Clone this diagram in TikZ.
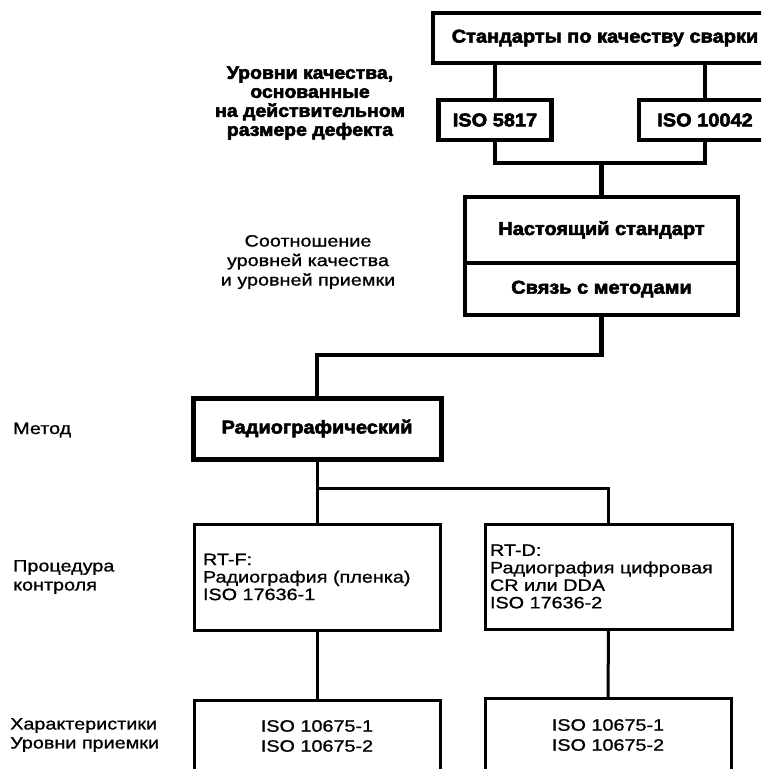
\documentclass[tikz,border=0pt]{standalone}
\usepackage{fontspec}
\setmainfont{Liberation Sans}[FakeStretch=1.2,FakeBold=1]
\newfontfamily\heavy{Liberation Sans Bold}[FakeStretch=1.08,FakeBold=3]
\begin{document}
\begin{tikzpicture}[x=1pt,y=-1pt,
  thickbox/.style={draw,line width=4.5pt,inner sep=0pt,outer sep=0pt,font=\heavy\fontsize{18.5}{19}\selectfont},
  thinbox/.style={draw,line width=3pt,inner sep=0pt,outer sep=0pt,font=\fontsize{16.5}{17.5}\selectfont},
  heavyline/.style={line width=4.5pt},
  thinline/.style={line width=3pt},
  lbl/.style={inner sep=0pt,font=\fontsize{16.5}{19}\selectfont,align=left,anchor=west},
  hlbl/.style={inner sep=0pt,font=\heavy\fontsize{18}{19}\selectfont,align=center}]
\useasboundingbox (0,0) rectangle (761,769);
\clip (0,0) rectangle (761,769);
\fill[white] (0,0) rectangle (761,769);
% top part
\node[thickbox,minimum width=344pt,minimum height=50pt] (top) at (605,38) {Стандарты по качеству сварки};
\node[thickbox,minimum width=113pt,minimum height=40pt] (isoa) at (495,120) {ISO 5817};
\node[thickbox,minimum width=132pt,minimum height=40pt] (isob) at (705,120) {ISO 10042};
\node[thickbox,minimum width=273pt,minimum height=66pt] (cur) at (601.5,230) {Настоящий стандарт};
\node[thickbox,minimum width=273pt,minimum height=52pt] (meth) at (601.5,289) {Связь с методами};
\node[thickbox,minimum width=248pt,minimum height=61pt,line width=5pt] (rad) at (317,428.5) {Радиографический};
% lower part
\node[thinbox,minimum width=246pt,minimum height=106pt,text width=228pt,align=left] (rtf) at (317,577) {RT-F:\\Радиография (пленка)\\ISO 17636-1};
\node[thinbox,minimum width=247pt,minimum height=105pt,text width=237pt,align=left] (rtd) at (608.5,576.5) {RT-D:\\Радиография цифровая\\CR или DDA\\ISO 17636-2};
\node[thinbox,minimum width=246pt,minimum height=72pt,align=center,font=\fontsize{16.5}{20}\selectfont] (bl) at (317,736) {ISO 10675-1\\ISO 10675-2};
\node[thinbox,minimum width=246pt,minimum height=74pt,align=center,font=\fontsize{16.5}{20}\selectfont] (br) at (608,735) {ISO 10675-1\\ISO 10675-2};
% labels
\node[hlbl] (lq) at (310,103) {Уровни качества,\\основанные\\на действительном\\размере дефекта};
\node[inner sep=0pt,font=\fontsize{16.5}{19.5}\selectfont,align=center] (lr) at (308,262) {Соотношение\\уровней качества\\и уровней приемки};
\node[lbl] (lm) at (13,430) {Метод};
\node[lbl] (lp) at (13,577) {Процедура\\контроля};
\node[lbl] (lc) at (10,735) {Характеристики\\Уровни приемки};
% connectors
\coordinate (ja) at (601.5,163);
\coordinate (jb) at (601.5,355);
\coordinate (jc) at (317,488);
\draw[heavyline] (isoa.north) -- (isoa.north |- top.south);
\draw[heavyline] (isob.north) -- (isob.north |- top.south);
\draw[heavyline] (isoa.south) |- (ja) -| (isob.south);
\draw[heavyline] (ja) -- (cur.north);
\draw[heavyline] (meth.south) |- (jb) -| (rad.north);
\draw[thinline] (rad.south) -- (rtf.north);
\draw[thinline] (jc) -| (rtd.north);
\draw[thinline] (rtf.south) -- (bl.north);
\draw[thinline] (rtd.south) -- (br.north);
\end{tikzpicture}
\end{document}
